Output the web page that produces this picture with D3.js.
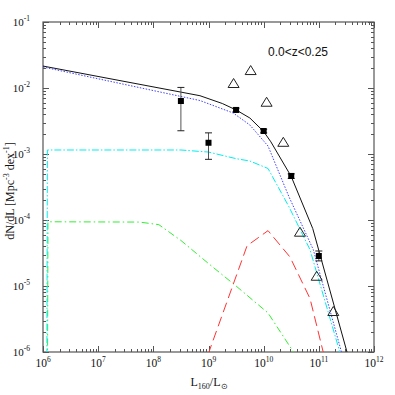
<!DOCTYPE html>
<html><head><meta charset="utf-8">
<script src="https://cdn.jsdelivr.net/npm/d3@7"></script>
<style>body{margin:0;background:#fff}svg{display:block}</style>
</head><body>
<script>
// ---- data (L160/Lsun, dN/dL) ----
const blackModel = [[1e6,2.15e-2],[7.0e8,7.64e-3],[1.78e9,5.82e-3],[3.16e9,4.65e-3],[5.62e9,3.51e-3],[1.0e10,2.19e-3],[1.35e10,1.53e-3],[3.16e10,4.56e-4],[7.76e10,7.41e-5],[3.24e11,1.0e-6],[5.0e11,2.7e-7]];
const blueModel = [[1e6,2.08e-2],[7.0e8,6.46e-3],[2.82e9,4.17e-3],[5.62e9,2.75e-3],[1.2e10,1.32e-3],[2.88e10,2.24e-4],[7.94e10,3.55e-5],[2.57e11,1.0e-6],[3.98e11,2.5e-7]];
const cyanModel = [[1.17e6,1e-7],[1.2e6,1.15e-3],[3.16e8,1.15e-3],[1e9,1.07e-3],[3.16e9,8.5e-4],[5.62e9,7.83e-4],[1.2e10,6.03e-4],[2.88e10,1.58e-4],[6.92e10,3.55e-5],[2.4e11,1e-6],[3.98e11,2.3e-7]];
const greenModel = [[1.2e6,1e-7],[1.23e6,9.4e-5],[5.62e7,9.3e-5],[1.26e8,8.5e-5],[3.16e8,4.9e-5],[1e9,2.19e-5],[3.16e9,1.0e-5],[1.2e10,3.9e-6],[3.47e10,1e-6],[5.0e10,5.6e-7]];
const redModel = [[7.94e8,5.6e-7],[5.0e9,4.07e-5],[1.2e10,6.9e-5],[3.0e10,2.75e-5],[6.92e10,6.46e-6],[1.2e11,1e-6],[1.41e11,5.6e-7]];
const squareL  = [3.16e8, 1e9, 3.16e9, 1e10, 3.16e10, 1e11];
const squareN  = [6.35e-3, 1.48e-3, 4.65e-3, 2.23e-3, 4.65e-4, 2.85e-5];
const squareLo = [2.25e-3, 8.3e-4, 4.37e-3, 2.09e-3, 4.27e-4, 2.4e-5];
const squareHi = [1.02e-2, 2.09e-3, 4.95e-3, 2.37e-3, 5.0e-4, 3.39e-5];
const triL = [2.85e9, 5.81e9, 1.13e10, 2.27e10, 4.55e10, 9.14e10, 1.83e11];
const triN = [1.19e-2, 1.87e-2, 6.19e-3, 1.53e-3, 6.65e-5, 1.43e-5, 4.18e-6];
const xTickExp = [6,7,8,9,10,11,12];
const yTickExp = [-6,-5,-4,-3,-2,-1];
const zLabel = "0.0<z<0.25";

(function(){
const W = 395, H = 395;
const pL = 43, pR = 374, pT = 22, pB = 352;
const svg = d3.select("body").append("svg").attr("width", W).attr("height", H);
const x = d3.scaleLog().domain([1e6, 1e12]).range([pL, pR]);
const y = d3.scaleLog().domain([1e-6, 1e-1]).range([pB, pT]);

svg.append("defs").append("clipPath").attr("id","clip")
  .append("rect").attr("x",pL).attr("y",pT).attr("width",pR-pL).attr("height",pB-pT);

const serif = "Liberation Serif, Times New Roman, serif";
const axisColor = "#555";

const xt = x.ticks();
const yt = y.ticks();
const isMajor = v => Math.abs(Math.log10(v) - Math.round(Math.log10(v))) < 1e-6;
const tk = svg.append("g").attr("stroke", axisColor).attr("stroke-width", 1);
xt.forEach(v => {
  const len = isMajor(v) ? 6 : 3;
  const px = Math.round(x(v)) + 0.5;
  tk.append("line").attr("x1",px).attr("x2",px).attr("y1",pB).attr("y2",pB-len);
  tk.append("line").attr("x1",px).attr("x2",px).attr("y1",pT).attr("y2",pT+len);
});
yt.forEach(v => {
  const len = isMajor(v) ? 6 : 3;
  const py = Math.round(y(v)) + 0.5;
  tk.append("line").attr("y1",py).attr("y2",py).attr("x1",pL).attr("x2",pL+len);
  tk.append("line").attr("y1",py).attr("y2",py).attr("x1",pR).attr("x2",pR-len);
});
svg.append("rect").attr("x",pL).attr("y",pT).attr("width",pR-pL).attr("height",pB-pT)
  .attr("fill","none").attr("stroke",axisColor).attr("stroke-width",1.2);

xTickExp.forEach(e => {
  const t = svg.append("text").attr("x", x(Math.pow(10,e))).attr("y", 367)
    .attr("text-anchor","middle").attr("font-family",serif).attr("font-size",11.5).attr("fill","#111");
  t.append("tspan").text("10");
  t.append("tspan").attr("dy",-5).attr("font-size",7.5).text(e);
});
yTickExp.forEach(e => {
  const t = svg.append("text").attr("x", 30).attr("y", y(Math.pow(10,e)) + 4)
    .attr("text-anchor","end").attr("font-family",serif).attr("font-size",11).attr("fill","#111");
  t.append("tspan").text("10");
  t.append("tspan").attr("dy",-5).attr("font-size",7.5).text("-" + Math.abs(e));
});

const xt2 = svg.append("text").attr("x", 209).attr("y", 386).attr("text-anchor","middle")
  .attr("font-family",serif).attr("font-size",12).attr("fill","#111");
xt2.append("tspan").text("L");
xt2.append("tspan").attr("dy",3).attr("font-size",8).text("160");
xt2.append("tspan").attr("dy",-3).text("/L");
xt2.append("tspan").attr("dy",3).attr("font-size",8).text("\u2299");

const yt2 = svg.append("text").attr("transform","translate(14,191) rotate(-90)").attr("text-anchor","middle")
  .attr("font-family",serif).attr("font-size",12).attr("fill","#111");
yt2.append("tspan").text("dN/dL [Mpc");
yt2.append("tspan").attr("dy",-5).attr("font-size",8).text("-3");
yt2.append("tspan").attr("dy",5).text(" dex");
yt2.append("tspan").attr("dy",-5).attr("font-size",8).text("-1");
yt2.append("tspan").attr("dy",5).text("]");

svg.append("text").attr("x", 298).attr("y", 56).attr("text-anchor","middle")
  .attr("font-family","Liberation Sans, Arial, sans-serif").attr("font-size",12).attr("fill","#111").text(zLabel);

const line = d3.line().x(d => x(d[0])).y(d => y(d[1]));
const g = svg.append("g").attr("clip-path","url(#clip)").attr("fill","none");
g.append("path").datum(greenModel).attr("d",line).attr("stroke","#33ee33").attr("stroke-width",1).attr("stroke-dasharray","7,3,1.5,3");
g.append("path").datum(redModel).attr("d",line).attr("stroke","#ff3333").attr("stroke-width",1).attr("stroke-dasharray","10,5");
g.append("path").datum(cyanModel).attr("d",line).attr("stroke","#00eeee").attr("stroke-width",1).attr("stroke-dasharray","7,2,1.5,2");
g.append("path").datum(blueModel).attr("d",line).attr("stroke","#4444ff").attr("stroke-width",1).attr("stroke-dasharray","1.5,1.5");
g.append("path").datum(blackModel).attr("d",line).attr("stroke","#111").attr("stroke-width",1);

const pts = squareL.map((L,i) => ({L, n: squareN[i], lo: squareLo[i], hi: squareHi[i]}));
const eg = svg.append("g");
pts.forEach(p => {
  const cx = x(p.L);
  eg.append("line").attr("x1",cx).attr("x2",cx).attr("y1",y(p.lo)).attr("y2",y(p.hi)).attr("stroke","#555").attr("stroke-width",1);
  eg.append("line").attr("x1",cx-3.5).attr("x2",cx+3.5).attr("y1",y(p.lo)).attr("y2",y(p.lo)).attr("stroke","#222").attr("stroke-width",1);
  eg.append("line").attr("x1",cx-3.5).attr("x2",cx+3.5).attr("y1",y(p.hi)).attr("y2",y(p.hi)).attr("stroke","#222").attr("stroke-width",1);
  eg.append("rect").attr("x",cx-3).attr("y",y(p.n)-3).attr("width",6).attr("height",6).attr("fill","#000");
});

triL.forEach((L,i) => {
  const cx = x(L), cy = y(triN[i]);
  svg.append("path").attr("d", `M${cx-5.5},${cy+4.5}L${cx+5.5},${cy+4.5}L${cx},${cy-4.5}Z`)
    .attr("fill","none").attr("stroke","#222").attr("stroke-width",1);
});
})();
</script>
</body></html>
